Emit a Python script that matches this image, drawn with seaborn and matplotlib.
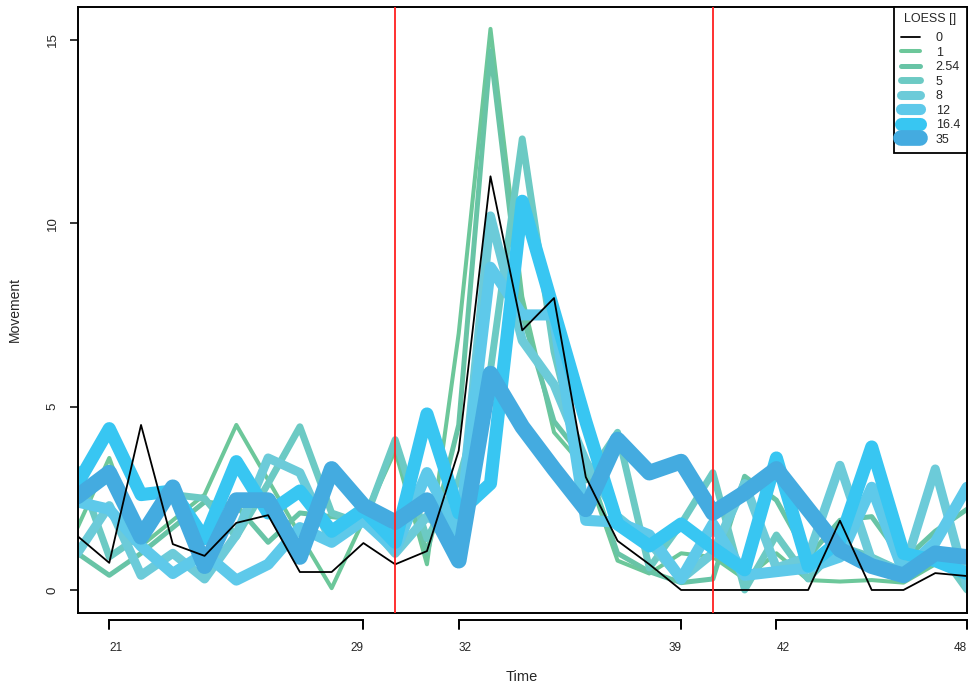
import numpy as np
import pandas as pd
import matplotlib
matplotlib.use("Agg")
import matplotlib.pyplot as plt
import matplotlib.transforms as mtransforms
from matplotlib.lines import Line2D
import seaborn as sns

# ---------------- data ----------------
time = list(range(20, 49))
spans = ["0", "1", "2.54", "5", "8", "12", "16.4", "35"]

s0 = [1.47, 0.74, 4.5, 1.25, 0.93, 1.83, 2.04, 0.49, 0.49, 1.28, 0.7, 1.06, 3.8, 11.28,
      7.08, 7.96, 3.08, 1.34, 0.7, 0.0, 0.0, 0.0, 0.0, 0.0, 1.89, 0.0, 0.0, 0.46, 0.38]
s1 = [1.7, 3.6, 1.2, 1.9, 2.6, 4.5, 3.0, 1.5, 0.05, 1.9, 3.8, 0.7, 7.0, 15.3,
      8.0, 4.3, 3.3, 0.8, 0.45, 1.0, 0.9, 0.3, 1.0, 0.27, 0.23, 0.27, 0.2, 0.7, 0.5]
s2 = [1.0, 0.4, 1.0, 1.7, 2.4, 2.3, 1.3, 2.1, 2.0, 1.9, 4.0, 1.0, 4.5, 14.7,
      7.5, 4.6, 3.5, 1.0, 0.5, 0.2, 0.3, 3.1, 2.45, 0.9, 1.9, 2.0, 0.8, 1.6, 2.2]
s5 = [3.3, 0.9, 1.5, 2.6, 2.5, 1.45, 2.9, 4.45, 2.1, 1.8, 4.1, 1.4, 3.0, 6.0,
      12.3, 6.5, 3.0, 4.3, 0.6, 1.8, 3.2, 0.0, 1.5, 0.3, 1.2, 0.9, 0.5, 1.2, 0.0]
s8 = [1.0, 2.3, 0.4, 1.0, 0.3, 1.5, 3.6, 3.2, 1.3, 2.0, 1.0, 2.0, 1.5, 10.2,
      6.8, 5.6, 3.5, 2.0, 1.3, 0.3, 1.0, 2.9, 0.6, 0.9, 3.4, 0.8, 0.5, 3.3, 0.1]
s12 = [2.4, 2.2, 1.2, 0.45, 1.0, 0.27, 0.7, 1.7, 1.3, 1.9, 1.1, 3.2, 1.5, 8.8,
       7.5, 7.5, 1.9, 1.85, 1.5, 0.3, 1.8, 0.4, 0.5, 0.6, 0.9, 2.8, 0.5, 1.3, 2.8]
s16 = [2.9, 4.4, 2.6, 2.7, 1.4, 3.5, 2.1, 2.7, 1.6, 2.2, 1.3, 4.8, 2.1, 2.9,
       10.6, 7.6, 4.6, 1.8, 1.2, 1.8, 1.15, 0.55, 3.6, 0.65, 1.35, 3.9, 1.0, 0.8, 0.45]
s35 = [2.55, 3.2, 1.45, 2.8, 0.65, 2.45, 2.45, 0.9, 3.3, 2.3, 1.85, 2.45, 0.8, 5.9,
       4.45, 3.3, 2.2, 4.1, 3.2, 3.5, 2.1, 2.65, 3.3, 2.2, 1.1, 0.65, 0.4, 1.0, 0.9]

series = [s0, s1, s2, s5, s8, s12, s16, s35]
colors = ["#000000", "#6cc79a", "#68c4a6", "#6ccac4", "#6ccbd9", "#5ec9ea", "#38c6f2", "#44abe0"]
widths = [1.3, 2.9, 3.6, 5.0, 6.5, 8.0, 9.4, 11.3]

vlines = [30, 40]
segments = [(21, 29), (32, 39), (42, 48)]
yticks = [0, 5, 10, 15]

# ---------------- figure ----------------
sns.set_theme(style="white")
plt.rcParams["font.family"] = ["Liberation Sans", "DejaVu Sans"]

W, H = 969, 691
fig = plt.figure(figsize=(W / 100, H / 100), dpi=100)
L, R, T, B = 77.5, 967, 6.5, 612.5
ax = fig.add_axes([L / W, 1 - B / H, (R - L) / W, (B - T) / H])

# draw coloured series first, black raw series on top
order = [1, 2, 3, 4, 5, 6, 7, 0]
for i in order:
    df = pd.DataFrame({"Time": time, "Movement": series[i]})
    sns.lineplot(data=df, x="Time", y="Movement", ax=ax, color=colors[i],
                 linewidth=widths[i], legend=False, estimator=None,
                 solid_capstyle="round", solid_joinstyle="round",
                 zorder=3 if i == 0 else 2)

for v in vlines:
    ax.axvline(v, color="#ff2020", linewidth=1.3, zorder=4)

ax.set_xlim(20, 48)
ax.set_ylim(-0.614, 15.91)

for sp in ax.spines.values():
    sp.set_color("black")
    sp.set_linewidth(1.4)
    sp.set_visible(True)

ax.set_xticks([])
ax.set_yticks(yticks)
ax.set_yticklabels([str(y) for y in yticks], rotation=90, va="center", fontsize=9.5)
ax.tick_params(axis="y", direction="out", length=6, width=1.1, color="black",
               pad=7.5, left=True)
ax.set_xlabel("")
ax.set_ylabel("")

# bracketed x axis segments
trans = mtransforms.blended_transform_factory(ax.transData, ax.transAxes)
ah = B - T
y_line = -(620 - B) / ah
y_tick = -(629 - B) / ah
y_lab = -(648 - B) / ah
for a, b in segments:
    ax.plot([a, a, b, b], [y_tick, y_line, y_line, y_tick], transform=trans,
            color="black", linewidth=1.4, clip_on=False, solid_joinstyle="miter")
    ax.text(a, y_lab, str(a), transform=trans, ha="left", va="center", fontsize=8.5)
    ax.text(b, y_lab, str(b), transform=trans, ha="right", va="center", fontsize=8.5)

ax.text(0.5, -(677 - B) / ah, "Time", transform=ax.transAxes, ha="center",
        va="center", fontsize=10.5)
fig.text(15 / W, 1 - 310 / H, "Movement", rotation=90, ha="center", va="center",
         fontsize=10)

# legend
handles = [Line2D([0], [0], color=colors[i], linewidth=widths[i],
                  solid_capstyle="round") for i in range(len(spans))]
leg = ax.legend(handles, spans, title="LOESS []", loc="upper right",
                bbox_to_anchor=(1, 1), borderaxespad=0, frameon=True,
                fancybox=False, fontsize=9, title_fontsize=9,
                handlelength=1.5, handletextpad=1.3, labelspacing=0.2,
                borderpad=0.55)
leg._legend_box.sep = 5
leg.get_frame().set_edgecolor("black")
leg.get_frame().set_linewidth(1.3)
leg.get_frame().set_alpha(1)
leg.set_zorder(10)

fig.savefig("out.png", dpi=100)
